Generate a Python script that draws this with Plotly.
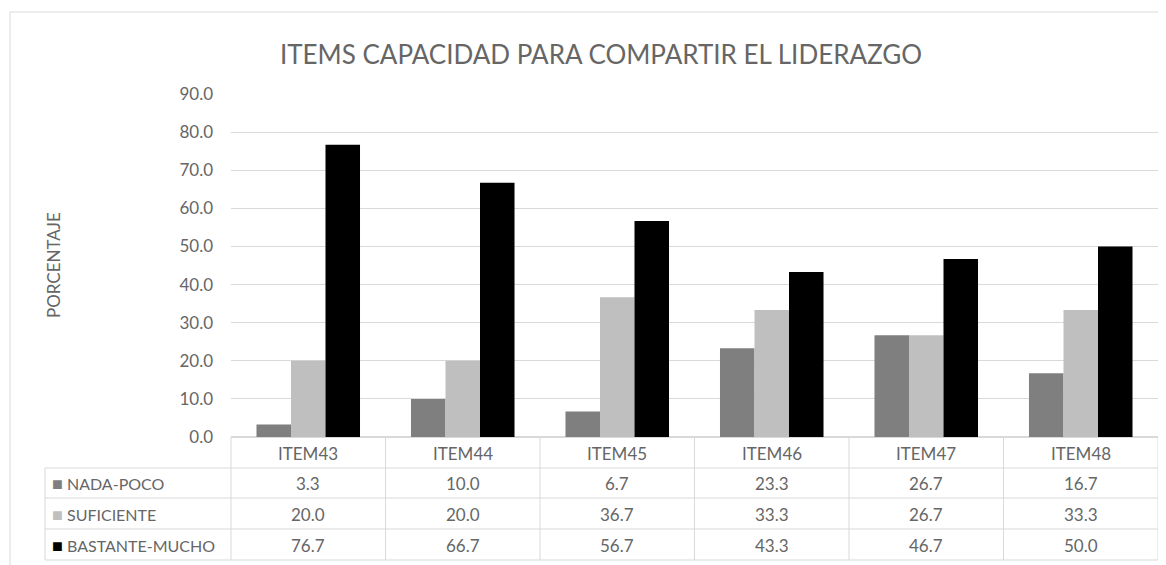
import plotly.graph_objects as go

# Data
items = ['ITEM43', 'ITEM44', 'ITEM45', 'ITEM46', 'ITEM47', 'ITEM48']
series_names = ['NADA-POCO', 'SUFICIENTE', 'BASTANTE-MUCHO']
nada_poco = [3.3, 10.0, 6.7, 23.3, 26.7, 16.7]
suficiente = [20.0, 20.0, 36.7, 33.3, 26.7, 33.3]
bastante_mucho = [76.7, 66.7, 56.7, 43.3, 46.7, 50.0]
y_ticks = [0, 10, 20, 30, 40, 50, 60, 70, 80, 90]

series_values = [nada_poco, suficiente, bastante_mucho]
series_colors = ['#7f7f7f', '#bfbfbf', '#000000']

FONT = 'Lato'
TEXT = '#666666'
LINE = '#d9d9d9'
FS = 17

# page has an 8px body margin, so the figure is 8px smaller than the window
OFF = 8
W, H = 1158, 557
L, R, T, B = 223, 8, 86, 128
plot_w = W - L - R
plot_h = H - T - B


def px_x(px):
    # page pixel x -> paper x
    return (px - OFF - L) / plot_w


def px_y(py):
    # page pixel y -> paper y
    return (H - B - (py - OFF)) / plot_h


fig = go.Figure()
for name, vals, col in zip(series_names, series_values, series_colors):
    fig.add_trace(go.Bar(x=items, y=vals, name=name, marker=dict(color=col, line=dict(width=0))))

# table rows (page pixel y of row centres and separating lines)
header_y = px_y(453)
row_ys = [px_y(483), px_y(514), px_y(545)]
row_lines = [468, 498, 529, 560]
table_left = 45

shapes = []
annotations = []

# outer chart border (left and top visible)
shapes.append(dict(type='rect', xref='paper', yref='paper',
                   x0=px_x(10), x1=px_x(1200), y0=px_y(600), y1=px_y(12),
                   line=dict(color='#d9d9d9', width=1), layer='below'))

# horizontal table lines
for ly in row_lines:
    shapes.append(dict(type='line', xref='paper', yref='paper',
                       x0=px_x(table_left), x1=1, y0=px_y(ly), y1=px_y(ly),
                       line=dict(color=LINE, width=1)))
# left border of the legend column
shapes.append(dict(type='line', xref='paper', yref='paper',
                   x0=px_x(table_left), x1=px_x(table_left), y0=px_y(row_lines[0]), y1=px_y(row_lines[-1]),
                   line=dict(color=LINE, width=1)))
# vertical category boundaries
for i in range(len(items) + 1):
    shapes.append(dict(type='line', xref='paper', yref='paper',
                       x0=i / len(items), x1=i / len(items), y0=0, y1=px_y(row_lines[-1]),
                       line=dict(color=LINE, width=1)))

# header and values
for i, item in enumerate(items):
    annotations.append(dict(x=item, y=header_y, xref='x', yref='paper', text=item,
                            xanchor='center', yanchor='middle',
                            showarrow=False, font=dict(family=FONT, size=FS, color=TEXT)))
    for vals, ry in zip(series_values, row_ys):
        annotations.append(dict(x=item, y=ry, xref='x', yref='paper', text=f'{vals[i]:.1f}',
                                xanchor='center', yanchor='middle',
                                showarrow=False, font=dict(family=FONT, size=FS, color=TEXT)))

# legend keys in table
for name, col, ry in zip(series_names, series_colors, row_ys):
    annotations.append(dict(x=px_x(table_left + 5), y=ry, xref='paper', yref='paper',
                            xanchor='left', yanchor='middle',
                            text=f'<span style="color:{col};font-size:18px">■</span> {name}',
                            showarrow=False, font=dict(family=FONT, size=FS - 1, color=TEXT)))

# y axis title
annotations.append(dict(x=px_x(53), y=px_y(265), xref='paper', yref='paper', text='PORCENTAJE',
                        xanchor='center', yanchor='middle',
                        textangle=-90, showarrow=False, font=dict(family=FONT, size=FS, color=TEXT)))

fig.update_layout(
    width=W, height=H,
    margin=dict(l=L, r=R, t=T, b=B),
    paper_bgcolor='white', plot_bgcolor='white',
    title=dict(text='ITEMS CAPACIDAD PARA COMPARTIR EL LIDERAZGO', x=(601 - OFF) / W, y=1 - (55 - OFF) / H,
               xanchor='center', yanchor='middle', font=dict(family=FONT, size=26, color=TEXT)),
    barmode='group', bargap=0.33, bargroupgap=0,
    showlegend=False,
    xaxis=dict(showticklabels=False, showgrid=False, showline=False, ticks=''),
    yaxis=dict(range=[0, 90], tickvals=y_ticks, tickformat='.1f', showgrid=True, gridcolor=LINE,
               gridwidth=1, zeroline=True, zerolinecolor=LINE, showline=False, ticklabelstandoff=17,
               tickfont=dict(family=FONT, size=FS, color=TEXT)),
    shapes=shapes, annotations=annotations,
    font=dict(family=FONT, color=TEXT),
)

fig.write_html('out.html')
